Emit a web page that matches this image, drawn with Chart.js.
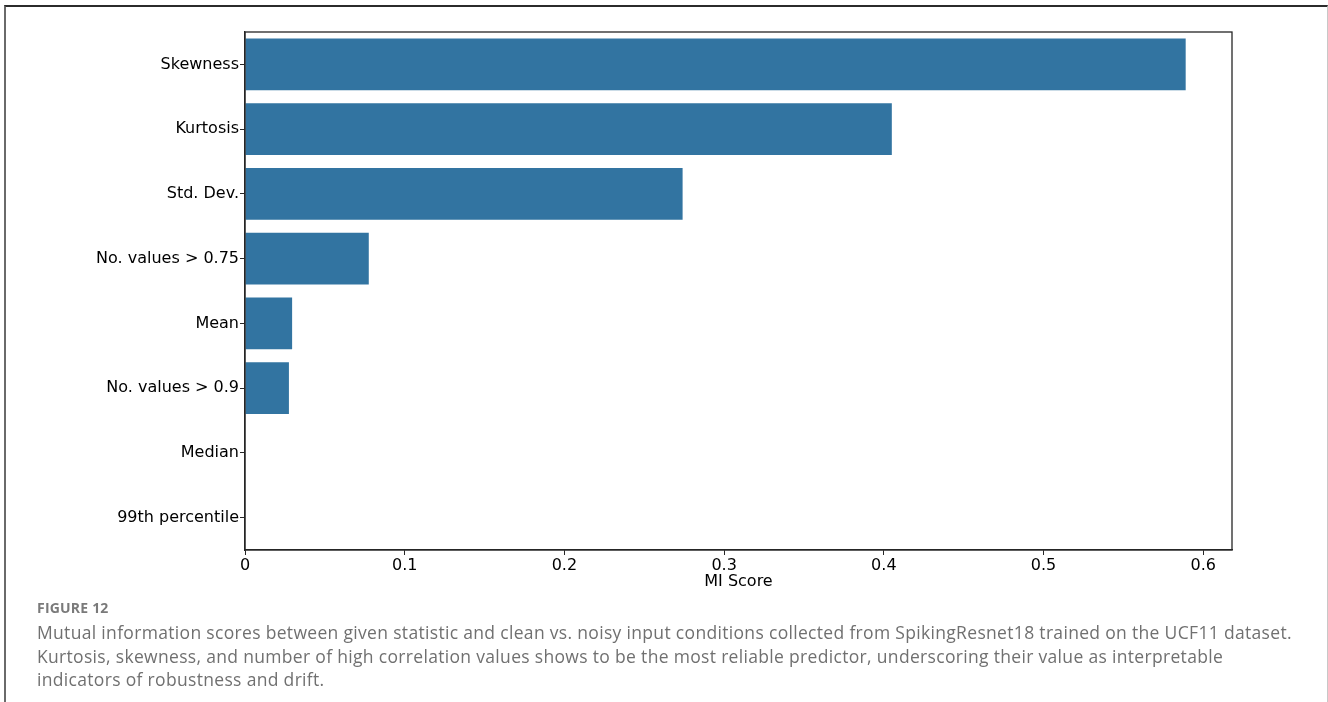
<!DOCTYPE html>
<html>
<head>
<meta charset="utf-8">
<script src="https://cdn.jsdelivr.net/npm/chart.js@4/dist/chart.umd.min.js"></script>
<style>
  html, body { margin: 0; padding: 0; background: #fff; }
  body { width: 1328px; height: 702px; position: relative; overflow: hidden; }
  #frame {
    position: absolute; left: 4px; top: 5px; width: 1324px; height: 700px;
    border-top: 2px solid #2b2b2b; border-left: 2px solid #6a6a6a; border-right: 1px solid #c8c8c8;
    box-sizing: border-box;
  }
  #wrap { position: absolute; left: 0; top: 0; width: 1328px; height: 600px; }
  #caption {
    position: absolute; left: 37px; top: 598px; width: 1266px;
    font-family: "Open Sans", "Lato", sans-serif; color: #707070;
  }
  #caption .fig { font-size: 14px; font-weight: 700; color: #7a7a7a; letter-spacing: 0.2px; margin-bottom: 4px; }
  #caption .txt { font-size: 17.5px; line-height: 23.5px; letter-spacing: 0.32px; }
</style>
</head>
<body>
<div id="frame"></div>
<div id="wrap"><canvas id="c" width="1328" height="600"></canvas></div>
<div id="caption">
  <div class="fig">FIGURE 12</div>
  <div class="txt">Mutual information scores between given statistic and clean vs. noisy input conditions collected from SpikingResnet18 trained on the UCF11 dataset. Kurtosis, skewness, and number of high correlation values shows to be the most reliable predictor, underscoring their value as interpretable indicators of robustness and drift.</div>
</div>
<script>
// Feature names and their mutual information scores
const statistics = ["Skewness", "Kurtosis", "Std. Dev.", "No. values > 0.75", "Mean", "No. values > 0.9", "Median", "99th percentile"];
const miScores = [0.589, 0.405, 0.274, 0.0775, 0.0295, 0.0275, 0, 0];
const xTicks = [0, 0.1, 0.2, 0.3, 0.4, 0.5, 0.6];
const xMax = 0.618;

const tickFont = { family: "DejaVu Sans", size: 16 };

// Draws the closed box around the plot area
const boxPlugin = {
  id: "box",
  afterDraw(chart) {
    const a = chart.chartArea, ctx = chart.ctx;
    ctx.save();
    ctx.strokeStyle = "#262626";
    ctx.lineWidth = 1.3;
    ctx.strokeRect(a.left, a.top, a.right - a.left, a.bottom - a.top);
    ctx.restore();
  }
};

new Chart(document.getElementById("c"), {
  type: "bar",
  data: {
    labels: statistics,
    datasets: [{
      data: miScores,
      backgroundColor: "#3274a1",
      borderWidth: 0,
      barPercentage: 0.8,
      categoryPercentage: 1.0
    }]
  },
  options: {
    indexAxis: "y",
    responsive: false,
    animation: false,
    layout: { padding: { top: 32, right: 96, left: 0, bottom: 9 } },
    plugins: { legend: { display: false }, tooltip: { enabled: false } },
    scales: {
      x: {
        type: "linear",
        min: 0,
        max: xMax,
        afterFit(s) { s.height = 41; },
        afterBuildTicks(s) { s.ticks = xTicks.map(v => ({ value: v })); },
        ticks: {
          color: "#000",
          font: tickFont,
          padding: 1,
          callback: v => (v === 0 ? "0" : v.toFixed(1))
        },
        grid: { drawOnChartArea: false, drawTicks: true, tickLength: 5, color: "#262626", lineWidth: 1 },
        border: { display: true, color: "#262626", width: 1.3 },
        title: { display: true, text: "MI Score", color: "#000", font: tickFont, padding: { top: 0, bottom: 0 } }
      },
      y: {
        afterFit(s) { s.width = 245; },
        ticks: { color: "#000", font: tickFont, padding: 1 },
        grid: { offset: false, drawOnChartArea: false, drawTicks: true, tickLength: 5, color: "#262626", lineWidth: 1 },
        border: { display: true, color: "#262626", width: 1.3 }
      }
    }
  },
  plugins: [boxPlugin]
});
</script>
</body>
</html>
